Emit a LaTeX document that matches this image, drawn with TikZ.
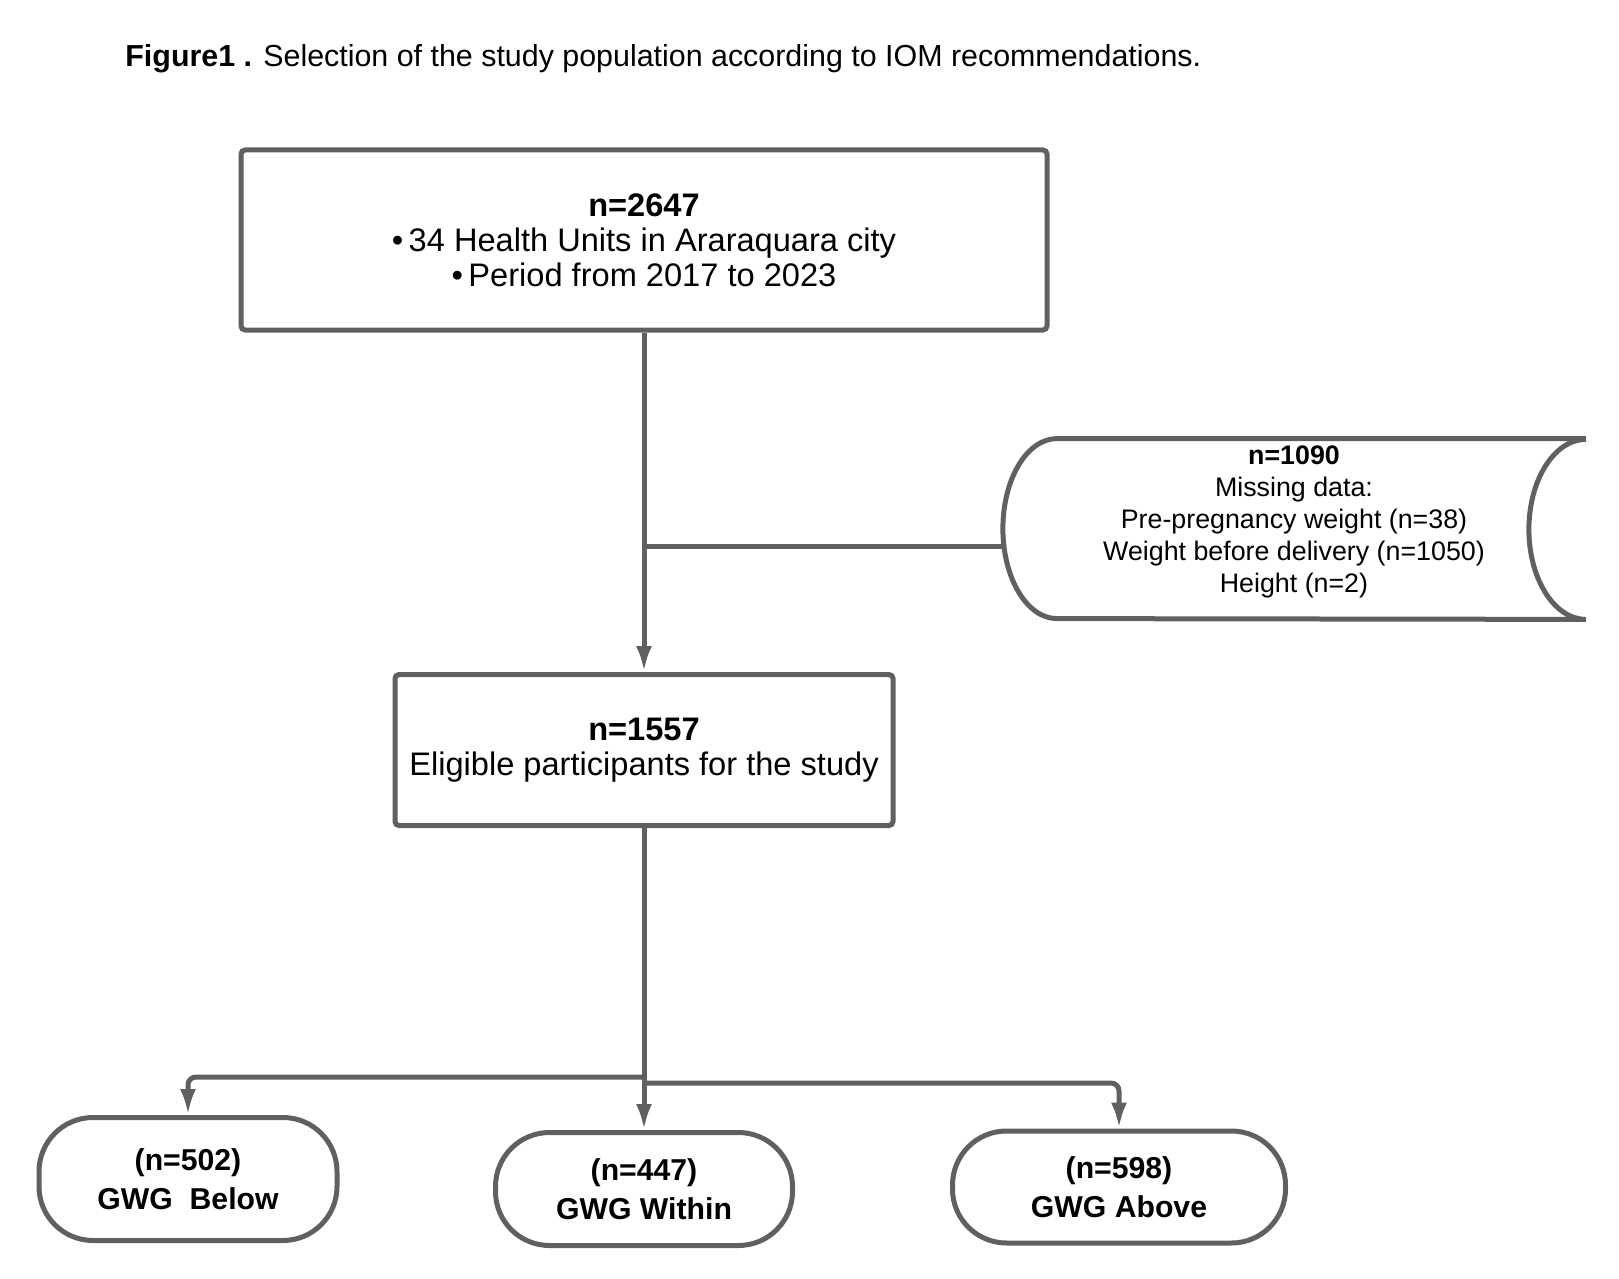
\documentclass[tikz,border=0pt]{standalone}
\usepackage{fontspec}
\setmainfont{Liberation Sans}
\usetikzlibrary{arrows.meta}
\definecolor{linegray}{RGB}{96,96,96}
\tikzset{
flowline/.style={draw=linegray, line width=2.5pt},
box/.style={flowline, rounded corners=2pt, align=center, inner sep=0pt},
term/.style={flowline, rounded corners=27pt, align=center, inner sep=0pt, font=\fontsize{15.1}{19.5}\selectfont\bfseries},
link/.style={flowline, -{Latex[length=13pt,width=8pt]}}}

\begin{document}
\begin{tikzpicture}[x=0.5pt,y=-0.5pt]
    \useasboundingbox (0,0) rectangle (1619,1279);

    \node[anchor=west, inner sep=0pt, font=\fontsize{15.2}{18}\selectfont] (T) at (125,59) {\textbf{Figure1 .} Selection of the study population according to IOM recommendations.};

    \node[box, minimum width=403pt, minimum height=90pt, font=\fontsize{16.3}{17.5}\selectfont] (A) at (644,240) {\textbf{n=2647}\\\textbullet\,34 Health Units in Araraquara city\\\textbullet\,Period from 2017 to 2023};
    \node[minimum width=291.5pt, minimum height=90pt] (B) at (1294,529) {};
    \node[align=center, font=\fontsize{13.4}{16}\selectfont] (Bt) at (1294,522) {\textbf{n=1090}\\Missing data:\\Pre-pregnancy weight (n=38)\\Weight before delivery (n=1050)\\Height (n=2)};
    \node[box, minimum width=249pt, minimum height=75.5pt, font=\fontsize{16.3}{17.5}\selectfont] (C) at (644,750) {\textbf{n=1557}\\Eligible participants for the study};

    \node[term, minimum width=149pt, minimum height=61.5pt] (D) at (188,1179) {(n=502)\\GWG\ \ Below};
    \node[term, minimum width=148.5pt, minimum height=56.5pt] (E) at (644,1189) {(n=447)\\GWG Within};
    \node[term, minimum width=166.5pt, minimum height=56pt] (F) at (1119,1187) {(n=598)\\GWG Above};

    % missing data shape
    \draw[flowline] (B.north east) -- ++(-529,0) arc[start angle=90, end angle=270, x radius=27pt, y radius=45pt] -- (B.south east) arc[start angle=270, end angle=90, x radius=28.5pt, y radius=45pt];

    \coordinate (j) at (644,546);
    \coordinate (kl) at (644,1077);
    \coordinate (kr) at (644,1083);

    \draw[link] (A) -- (C);
    \draw[flowline] (j) -- (j -| B.west);
    \draw[link] (C) -- (E);
    \draw[link, rounded corners=4pt] (kl) -| (D);
    \draw[link, rounded corners=4pt] (kr) -| (F);

\end{tikzpicture}
\end{document}
